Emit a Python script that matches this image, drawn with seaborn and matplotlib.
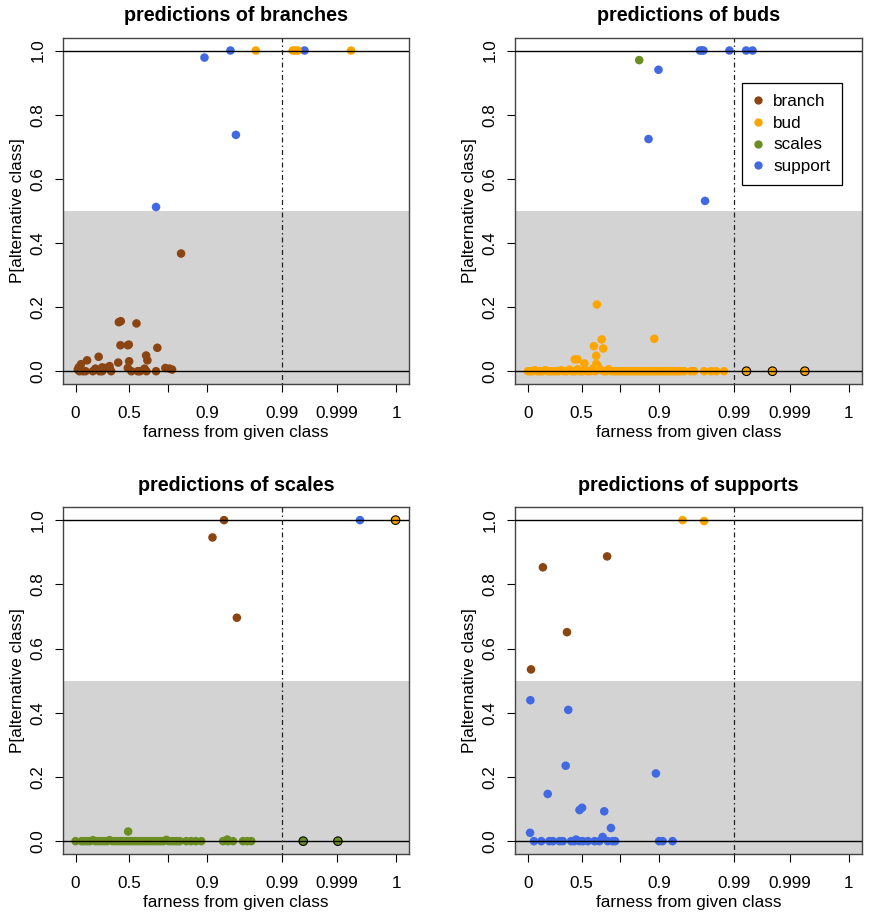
import numpy as np
import pandas as pd
import matplotlib
matplotlib.use('Agg')
import matplotlib.pyplot as plt
from matplotlib.lines import Line2D
import seaborn as sns

sns.set_style('white')
plt.rcParams['font.family'] = ['Liberation Sans', 'DejaVu Sans']
plt.rcParams['text.color'] = 'black'
plt.rcParams['axes.labelcolor'] = 'black'
plt.rcParams['xtick.color'] = 'black'
plt.rcParams['ytick.color'] = 'black'

# colours of the four classes
CLASSES = ['branch', 'bud', 'scales', 'support']
PALETTE = {'branch': '#8B4513', 'bud': '#FFA500', 'scales': '#6B8E23', 'support': '#4169E1'}

# x axis: farness from given class, drawn on a stretched scale (0..1 axis units)
tick_pos = [0, 0.168, 0.287, 0.41, 0.643, 0.816, 1]
tick_lab = ['0', '0.5', '', '0.9', '0.99', '0.999', '1']
cut_pos = 0.643   # position of farness 0.99

# ---- predictions of branches ----
branches_x = [0.135, 0.141, 0.190, 0.140, 0.163, 0.166, 0.255, 0.036, 0.072, 0.133, 0.167, 0.220,
              0.224, 0.017, 0.010, 0.329, 0.106, 0.083,
              0.007, 0.012, 0.023, 0.031, 0.054, 0.062, 0.075, 0.083, 0.093, 0.106, 0.111, 0.163,
              0.174, 0.194, 0.201, 0.215, 0.221, 0.251, 0.280, 0.293, 0.301,
              0.402, 0.483, 0.500, 0.714, 0.251,
              0.562, 0.677, 0.685, 0.693, 0.859]
branches_y = [0.153, 0.156, 0.149, 0.081, 0.081, 0.083, 0.073, 0.034, 0.045, 0.027, 0.031, 0.049,
              0.034, 0.022, 0.012, 0.367, 0.016, 0.012,
              0.005, 0.0, 0.0, 0.0, 0.0, 0.008, 0.0, 0.0, 0.01, 0.008, 0.0, 0.01,
              0.0, 0.0, 0.0, 0.008, 0.0, 0.0, 0.01, 0.008, 0.005,
              0.978, 1.0, 0.737, 1.0, 0.512,
              1.0, 1.0, 1.0, 1.0, 1.0]
branches_cls = ['branch'] * 39 + ['support'] * 5 + ['bud'] * 5
branches_edge = [False] * 49

# ---- predictions of buds ----
buds_x = [0.347,
          0.407, 0.376, 0.552, 0.536, 0.542, 0.547, 0.628, 0.680, 0.700,
          0.215, 0.394, 0.230, 0.206, 0.235, 0.213, 0.146, 0.155, 0.176, 0.213, 0.218,
          0.0, 0.008, 0.015, 0.022, 0.031, 0.038, 0.046, 0.055, 0.063, 0.07, 0.079, 0.088,
          0.096, 0.104, 0.112, 0.121, 0.13, 0.138, 0.147, 0.155, 0.163, 0.17, 0.178, 0.186,
          0.195, 0.203, 0.21, 0.219, 0.227, 0.236, 0.244, 0.252, 0.26, 0.269, 0.277, 0.285,
          0.294, 0.302, 0.31, 0.318, 0.327, 0.335, 0.344, 0.352, 0.36, 0.368, 0.377, 0.385,
          0.393, 0.401, 0.41, 0.418, 0.427, 0.435, 0.443, 0.452, 0.46, 0.468, 0.477, 0.487,
          0.508, 0.518, 0.549, 0.571, 0.587, 0.611,
          0.681, 0.762, 0.863]
buds_y = [0.970,
          0.940, 0.724, 0.531, 1.0, 1.0, 1.0, 1.0, 1.0, 1.0,
          0.208, 0.101, 0.099, 0.078, 0.071, 0.048, 0.037, 0.037, 0.024, 0.023, 0.016,
          0.0, 0.0, 0.0, 0.003, 0.0, 0.0, 0.0, 0.003, 0.0, 0.0, 0.0, 0.0,
          0.0, 0.003, 0.0, 0.0, 0.005, 0.0, 0.0, 0.006, 0.0, 0.0, 0.004, 0.0,
          0.0, 0.008, 0.0, 0.01, 0.004, 0.0, 0.0, 0.006, 0.0, 0.0, 0.0, 0.0,
          0.0, 0.0, 0.0, 0.0, 0.0, 0.0, 0.0, 0.0, 0.0, 0.0, 0.0, 0.0,
          0.0, 0.0, 0.0, 0.0, 0.0, 0.0, 0.0, 0.0, 0.0, 0.0, 0.0, 0.0,
          0.0, 0.0, 0.0, 0.0, 0.0, 0.0,
          0.0, 0.0, 0.0]
buds_cls = ['scales'] + ['support'] * 9 + ['bud'] * 80
buds_edge = [False] * 87 + [True] * 3

# ---- predictions of scales ----
scales_x = [0.463, 0.427, 0.503,
            0.887,
            0.164, 0.473,
            0.0, 0.019, 0.027, 0.036, 0.045, 0.054, 0.062, 0.071, 0.080, 0.089, 0.098, 0.106,
            0.115, 0.124, 0.133, 0.142, 0.150, 0.159, 0.168, 0.177, 0.186, 0.195, 0.203, 0.212,
            0.221, 0.230, 0.239, 0.247, 0.256, 0.265, 0.274, 0.283, 0.291, 0.300, 0.309, 0.317,
            0.325, 0.345, 0.36, 0.375, 0.392, 0.46, 0.475, 0.491, 0.522, 0.535, 0.548,
            0.998,
            0.710, 0.818]
scales_y = [1.0, 0.946, 0.696,
            1.0,
            0.030, 0.005,
            0.0, 0.0, 0.0, 0.0, 0.0, 0.003, 0.0, 0.0, 0.0, 0.0, 0.0, 0.003,
            0.0, 0.0, 0.0, 0.0, 0.0, 0.0, 0.0, 0.0, 0.0, 0.0, 0.0, 0.0,
            0.0, 0.0, 0.0, 0.0, 0.0, 0.0, 0.0, 0.004, 0.0, 0.0, 0.0, 0.0,
            0.0, 0.0, 0.0, 0.0, 0.0, 0.0, 0.0, 0.0, 0.0, 0.0, 0.0,
            1.0,
            0.0, 0.0]
scales_cls = ['branch'] * 3 + ['support'] + ['scales'] * 49 + ['bud'] + ['scales'] * 2
scales_edge = [False] * 53 + [True] * 3

# ---- predictions of supports ----
supports_x = [0.482, 0.549,
              0.047, 0.247, 0.122, 0.010,
              0.008, 0.126, 0.118, 0.062, 0.399, 0.161, 0.169, 0.238, 0.259, 0.007, 0.233, 0.150,
              0.019, 0.042, 0.067, 0.078, 0.099, 0.109, 0.135, 0.145, 0.161, 0.171, 0.187, 0.208,
              0.223, 0.249, 0.264, 0.272, 0.409, 0.420, 0.451]
supports_y = [1.0, 0.997,
              0.853, 0.887, 0.651, 0.535,
              0.439, 0.409, 0.235, 0.147, 0.211, 0.097, 0.104, 0.093, 0.041, 0.026, 0.013, 0.005,
              0.0, 0.0, 0.0, 0.0, 0.0, 0.0, 0.0, 0.0, 0.0, 0.0, 0.0, 0.0,
              0.0, 0.0, 0.0, 0.0, 0.0, 0.0, 0.0]
supports_cls = ['bud'] * 2 + ['branch'] * 4 + ['support'] * 31
supports_edge = [False] * 37

panels = [
    ('predictions of branches', branches_x, branches_y, branches_cls, branches_edge),
    ('predictions of buds', buds_x, buds_y, buds_cls, buds_edge),
    ('predictions of scales', scales_x, scales_y, scales_cls, scales_edge),
    ('predictions of supports', supports_x, supports_y, supports_cls, supports_edge),
]
rects = [[0.0722, 0.5812, 0.3985, 0.3777], [0.5926, 0.5812, 0.3990, 0.3777],
         [0.0722, 0.0687, 0.3985, 0.3781], [0.5926, 0.0687, 0.3990, 0.3781]]

FS = 12.3
fig = plt.figure(figsize=(8.69, 9.17), dpi=100)

for i, ((title, xs, ys, cls, edge), rect) in enumerate(zip(panels, rects)):
    ax = fig.add_axes(rect)
    df = pd.DataFrame({'far': xs, 'p': ys, 'cls': cls, 'edge': edge})
    ax.set_xlim(-0.04, 1.04)
    ax.set_ylim(-0.04, 1.04)
    ax.axhspan(-0.04, 0.5, color='#D3D3D3', lw=0, zorder=0)

    sns.scatterplot(data=df[~df['edge']], x='far', y='p', hue='cls', palette=PALETTE,
                    hue_order=CLASSES, s=38, linewidth=0, legend=False, ax=ax, zorder=2)
    if df['edge'].any():
        sns.scatterplot(data=df[df['edge']], x='far', y='p', hue='cls', palette=PALETTE,
                        hue_order=CLASSES, s=38, edgecolor='black', linewidth=0.8,
                        legend=False, ax=ax, zorder=3)

    ax.axhline(0, color='black', lw=1, zorder=4)
    ax.axhline(1, color='black', lw=1, zorder=4)
    ax.axvline(cut_pos, color='#222222', lw=0.9, ls=(0, (1.2, 2.4, 4, 2.4)), zorder=4)

    ax.set_xticks(tick_pos)
    ax.set_xticklabels(tick_lab)
    ax.set_yticks([0, 0.2, 0.4, 0.6, 0.8, 1.0])
    ax.set_yticklabels(['0.0', '0.2', '0.4', '0.6', '0.8', '1.0'], rotation=90, va='center')
    ax.tick_params(axis='both', direction='out', length=5.5, width=0.8, color='black',
                   labelsize=FS, labelcolor='black', bottom=True, left=True, top=False, right=False)
    ax.tick_params(axis='x', pad=10.5)
    ax.tick_params(axis='y', pad=7)
    for sp in ax.spines.values():
        sp.set_color('#444444')
        sp.set_linewidth(1.0)

    ax.set_title(title, fontsize=14.2, fontweight='bold', pad=12, color='black')
    ax.set_xlabel('farness from given class', fontsize=FS)
    ax.set_ylabel('P[alternative class]', fontsize=FS)
    ax.xaxis.set_label_coords(0.5, -0.118)
    ax.yaxis.set_label_coords(-0.109, 0.5)

    if i == 1:
        handles = [Line2D([], [], ls='none', marker='o', markersize=6, markerfacecolor=PALETTE[c],
                          markeredgewidth=0, label=c) for c in CLASSES]
        leg = ax.legend(handles=handles, loc='upper right', bbox_to_anchor=(0.942, 0.870),
                        fontsize=FS, frameon=True, fancybox=False, framealpha=1,
                        edgecolor='black', borderpad=0.65, handlelength=0.6,
                        handletextpad=0.6, labelspacing=0.4, borderaxespad=0)
        leg.get_frame().set_linewidth(0.9)
        leg.set_zorder(5)

plt.savefig('out.png', dpi=100)
